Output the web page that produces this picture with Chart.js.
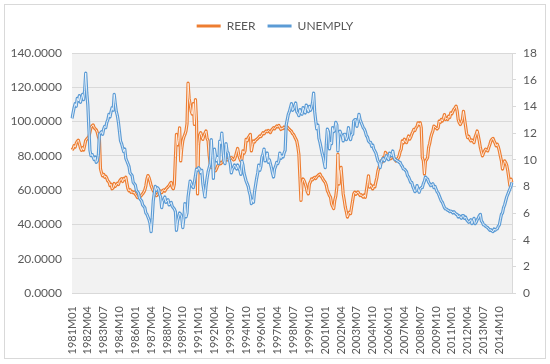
<!DOCTYPE html>
<html>
<head>
<meta charset="utf-8">
<script src="https://cdn.jsdelivr.net/npm/chart.js@4.4.0/dist/chart.umd.min.js"></script>
<style>
  html, body { margin: 0; padding: 0; background: #fff; }
  canvas { display: block; }
</style>
</head>
<body>
<canvas id="chart" width="550" height="364"></canvas>
<script>
// monthly series, 1981M01 .. 2015M10
const startYear = 1981;
const labelStep = 15;

const reer = [
  83.5, 84.2, 86.0, 85.1, 87.3, 88.5, 89.2, 87.0, 84.6, 83.2, 84.8, 83.4, // 1981
  86.1, 89.0, 89.8, 90.5, 91.2, 93.8, 96.7, 97.5, 98.1, 96.4, 95.8, 95.2, // 1982
  93.6, 91.0, 89.5, 72.4, 70.1, 68.3, 69.2, 67.5, 68.1, 66.9, 65.3, 64.8, // 1983
  62.7, 63.5, 60.8, 61.4, 63.9, 62.2, 63.1, 64.0, 63.3, 65.2, 66.1, 66.7, // 1984
  65.0, 66.8, 66.2, 67.5, 64.1, 60.9, 59.6, 60.3, 58.7, 59.2, 58.4, 58.9, // 1985
  57.6, 56.8, 55.7, 56.3, 55.9, 56.4, 57.2, 57.9, 58.8, 60.1, 62.5, 66.4, // 1986
  68.5, 67.3, 65.1, 62.6, 61.0, 59.7, 58.9, 57.8, 56.8, 57.5, 58.3, 58.9, // 1987
  59.6, 58.5, 59.8, 60.2, 59.4, 60.7, 61.3, 62.0, 62.6, 63.8, 64.5, 61.7, // 1988
  60.8, 63.5, 79.0, 92.5, 86.4, 89.6, 96.4, 77.0, 84.2, 88.7, 91.0, 92.5, // 1989
  94.5, 98.7, 122.4, 113.5, 110.0, 106.0, 104.3, 110.5, 98.3, 112.8, 100.2, 57.8, // 1990
  86.7, 92.0, 93.5, 91.3, 89.6, 91.8, 93.2, 94.5, 90.2, 88.7, 80.4, 75.1, // 1991
  73.2, 74.0, 72.5, 71.8, 71.3, 72.6, 74.1, 75.1, 76.3, 75.4, 76.1, 76.8, // 1992
  78.0, 77.2, 78.3, 77.6, 78.0, 79.2, 78.4, 79.0, 78.5, 77.6, 78.0, 79.8, // 1993
  82.1, 84.3, 80.6, 78.5, 77.0, 78.0, 82.9, 81.5, 82.9, 89.6, 88.7, 90.6, // 1994
  91.5, 92.5, 82.9, 86.0, 88.7, 88.0, 89.2, 89.6, 90.1, 90.8, 91.6, 91.2, // 1995
  92.4, 93.5, 92.8, 93.9, 94.5, 94.0, 94.8, 94.2, 93.6, 94.9, 95.7, 96.4, // 1996
  95.8, 96.7, 97.4, 96.9, 97.8, 96.5, 95.4, 96.2, 95.9, 96.8, 96.1, 96.4, // 1997
  96.9, 96.0, 95.5, 94.8, 94.3, 93.0, 92.5, 91.2, 90.0, 88.7, 85.4, 81.0, // 1998
  67.4, 54.0, 64.2, 66.5, 65.5, 63.8, 61.7, 59.0, 57.8, 63.6, 64.9, 66.5, // 1999
  66.0, 67.0, 67.4, 66.8, 67.9, 68.4, 69.0, 69.4, 68.1, 67.4, 66.2, 65.3, // 2000
  64.5, 62.8, 59.8, 58.5, 56.8, 55.9, 52.0, 50.5, 49.2, 54.0, 56.5, 61.7, // 2001
  81.0, 63.5, 71.3, 73.3, 65.6, 57.8, 54.2, 50.1, 47.5, 44.3, 45.8, 47.2, // 2002
  46.3, 50.2, 54.0, 57.8, 58.8, 57.6, 58.3, 59.0, 57.9, 56.9, 57.4, 56.5, // 2003
  55.9, 57.2, 55.8, 59.8, 64.0, 68.4, 61.7, 63.1, 62.0, 60.7, 62.5, 61.9, // 2004
  64.8, 67.5, 71.3, 73.3, 75.6, 77.1, 76.4, 79.0, 78.2, 82.0, 80.6, 81.0, // 2005
  79.5, 79.0, 78.3, 79.0, 80.0, 78.6, 78.0, 77.0, 78.2, 78.4, 80.0, 82.5, // 2006
  83.9, 88.7, 87.5, 89.7, 88.3, 87.7, 89.7, 91.6, 89.7, 90.8, 92.6, 94.0, // 2007
  95.5, 94.8, 96.4, 97.2, 99.3, 98.1, 99.3, 96.4, 79.0, 77.1, 69.4, 77.0, // 2008
  77.8, 79.0, 84.9, 87.3, 90.6, 92.8, 94.5, 97.4, 96.8, 96.4, 95.7, 96.4, // 2009
  100.3, 99.5, 101.2, 100.3, 102.0, 104.1, 101.2, 101.9, 101.2, 103.2, 102.4, 105.1, // 2010
  104.5, 106.0, 107.2, 108.0, 109.0, 106.3, 101.2, 99.3, 98.3, 99.6, 101.2, 106.0, // 2011
  101.5, 97.4, 93.0, 90.6, 91.4, 89.7, 88.7, 89.3, 88.7, 87.7, 90.8, 92.6, // 2012
  94.5, 91.8, 88.7, 84.9, 82.3, 80.0, 81.6, 82.9, 83.9, 83.4, 82.9, 84.9, // 2013
  86.6, 88.7, 89.7, 90.2, 88.7, 87.4, 85.8, 86.8, 85.2, 82.9, 79.8, 77.1, // 2014
  72.3, 75.0, 77.1, 76.1, 74.5, 71.3, 67.0, 62.7, 66.5, 64.5, // 2015
];

const unemply = [
  13.1, 13.5, 13.9, 14.2, 14.0, 14.6, 14.4, 14.8, 14.3, 14.6, 14.9, 14.5, // 1981
  15.2, 16.5, 15.0, 14.1, 12.3, 10.7, 10.3, 10.4, 10.2, 10.0, 10.2, 9.8, // 1982
  9.9, 10.4, 11.9, 12.0, 12.1, 11.9, 12.3, 12.5, 12.4, 12.8, 13.0, 13.4, // 1983
  13.2, 13.6, 13.9, 13.7, 14.9, 14.2, 13.6, 13.3, 12.8, 12.1, 11.4, 11.2, // 1984
  10.9, 10.6, 10.8, 10.1, 9.9, 9.7, 9.5, 9.0, 8.9, 8.8, 8.3, 8.2, // 1985
  8.1, 7.7, 7.6, 7.5, 7.1, 7.0, 6.9, 6.6, 6.5, 6.4, 6.0, 5.9, // 1986
  5.7, 5.5, 5.2, 4.6, 5.6, 6.9, 7.5, 8.0, 7.7, 7.9, 7.8, 7.4, // 1987
  7.2, 6.4, 6.9, 7.0, 7.2, 6.8, 6.9, 7.0, 6.6, 6.7, 6.8, 6.5, // 1988
  6.4, 6.3, 6.1, 4.7, 5.4, 5.7, 6.0, 5.9, 5.7, 4.9, 5.6, 6.7, // 1989
  5.7, 6.0, 7.2, 7.8, 8.4, 8.2, 8.0, 7.9, 8.3, 8.8, 9.3, 9.2, // 1990
  9.4, 9.3, 9.0, 9.2, 8.2, 7.7, 7.2, 8.0, 8.6, 9.1, 9.4, 9.7, // 1991
  11.5, 10.1, 8.6, 10.8, 10.3, 9.9, 10.2, 9.7, 11.4, 11.2, 12.0, 10.8, // 1992
  9.9, 9.7, 11.2, 10.6, 10.5, 10.0, 9.7, 9.0, 9.3, 9.4, 9.6, 9.5, // 1993
  9.3, 9.6, 9.4, 9.2, 8.9, 9.9, 9.6, 9.0, 8.7, 8.4, 8.2, 8.0, // 1994
  7.6, 7.3, 6.7, 7.0, 6.8, 7.6, 8.1, 8.6, 9.0, 9.6, 9.2, 9.5, // 1995
  10.2, 10.4, 10.8, 9.9, 10.2, 10.5, 9.8, 10.0, 9.7, 9.4, 9.0, 8.7, // 1996
  9.3, 9.5, 9.8, 9.7, 9.9, 10.5, 10.1, 10.3, 10.2, 10.5, 10.7, 12.6, // 1997
  13.0, 13.4, 13.6, 13.9, 14.2, 13.7, 13.8, 14.0, 14.25, 13.6, 13.5, 13.3, // 1998
  13.75, 13.5, 13.4, 13.9, 13.7, 13.5, 14.1, 13.8, 13.6, 14.0, 13.7, 13.9, // 1999
  14.3, 15.0, 13.6, 12.9, 12.3, 12.6, 11.6, 11.3, 10.9, 10.5, 10.2, 9.8, // 2000
  9.4, 11.15, 12.3, 12.1, 10.8, 11.3, 11.2, 12.4, 12.1, 12.2, 12.8, 12.6, // 2001
  10.65, 12.0, 12.14, 11.9, 11.8, 11.4, 11.9, 11.9, 11.5, 11.7, 12.4, 11.9, // 2002
  11.5, 11.9, 11.9, 12.9, 13.0, 13.0, 12.5, 12.9, 13.4, 13.0, 12.8, 12.6, // 2003
  12.4, 12.3, 12.1, 11.8, 11.7, 11.4, 11.3, 11.3, 11.0, 11.1, 10.8, 10.65, // 2004
  10.5, 10.2, 9.9, 9.8, 9.4, 9.8, 10.0, 10.1, 9.9, 10.1, 10.3, 10.1, // 2005
  10.0, 10.5, 10.4, 10.3, 10.65, 10.2, 10.0, 10.0, 9.9, 9.9, 9.8, 9.8, // 2006
  9.6, 9.5, 9.3, 9.3, 9.2, 9.1, 8.8, 8.7, 8.5, 8.3, 8.3, 8.0, // 2007
  7.8, 7.6, 7.7, 8.05, 7.8, 7.55, 7.8, 7.9, 7.9, 8.2, 8.4, 8.7, // 2008
  8.6, 8.55, 8.3, 8.2, 8.05, 8.1, 8.2, 7.9, 8.0, 7.8, 7.6, 7.5, // 2009
  7.3, 7.1, 6.9, 6.8, 6.6, 6.4, 6.3, 6.3, 6.2, 6.2, 6.1, 6.15, // 2010
  6.1, 6.0, 6.1, 6.0, 5.9, 5.9, 5.7, 5.8, 5.7, 5.6, 5.8, 5.8, // 2011
  5.6, 5.7, 5.5, 5.4, 5.3, 5.4, 5.5, 5.2, 5.4, 5.6, 5.2, 5.3, // 2012
  5.5, 5.6, 5.8, 5.9, 5.4, 5.3, 5.1, 5.1, 5.0, 4.95, 4.9, 4.8, // 2013
  4.7, 4.75, 4.65, 4.6, 4.8, 4.7, 4.8, 4.8, 5.0, 5.1, 5.5, 5.9, // 2014
  6.0, 6.4, 6.6, 6.9, 7.2, 7.4, 7.6, 7.8, 8.0, 8.3, // 2015
];

const labels = [];
for (let i = 0; i < reer.length; i++) {
  const y = startYear + Math.floor(i / 12);
  const m = (i % 12) + 1;
  labels.push(y + "M" + (m < 10 ? "0" + m : m));
}

const textColor = "#595959";
Chart.defaults.font.family = "Lato, 'Liberation Sans', sans-serif";
Chart.defaults.font.size = 12;
Chart.defaults.color = textColor;

// white page, thin outer frame, grey plot area
const frame = {
  id: "frame",
  beforeDraw(chart) {
    const { ctx, chartArea: a } = chart;
    ctx.save();
    ctx.fillStyle = "#fff";
    ctx.fillRect(0, 0, chart.width, chart.height);
    ctx.strokeStyle = "#d9d9d9";
    ctx.lineWidth = 1;
    ctx.strokeRect(4.5, 4.5, 541, 354);
    ctx.fillStyle = "#f2f2f2";
    ctx.fillRect(a.left, a.top, a.right - a.left, a.bottom - a.top);
    ctx.restore();
  },
};

// extra room under the legend
const legendGap = {
  id: "legendGap",
  beforeInit(chart) {
    const fit = chart.legend.fit;
    chart.legend.fit = function () {
      fit.call(this);
      this.height += 11;
    };
  },
};

function series(label, data, axis, color, width, order) {
  return {
    label: label,
    data: data,
    yAxisID: axis,
    borderColor: color,
    backgroundColor: color,
    borderWidth: width,
    pointRadius: 0,
    fill: false,
    tension: 0,
    borderJoinStyle: "round",
    order: order,
  };
}

new Chart(document.getElementById("chart"), {
  type: "line",
  data: {
    labels: labels,
    datasets: [
      series("REER", reer, "y", "#ED7D31", 3.2, 3),
      series("UNEMPLY", unemply, "y1", "#5B9BD5", 3.2, 1),
      // pale centre stroke gives the double-line look
      series("REER", reer, "y", "rgba(255,255,255,0.8)", 1, 2),
      series("UNEMPLY", unemply, "y1", "rgba(255,255,255,0.8)", 1, 0),
    ],
  },
  options: {
    responsive: false,
    animation: false,
    layout: { padding: { top: 8, left: 0, right: 0, bottom: 0 } },
    plugins: {
      tooltip: { enabled: false },
      legend: {
        position: "top",
        labels: {
          boxWidth: 24,
          boxHeight: 3,
          padding: 12,
          color: textColor,
          generateLabels: (chart) =>
            chart.data.datasets.slice(0, 2).map((ds, i) => ({
              text: ds.label,
              fillStyle: ds.borderColor,
              strokeStyle: ds.borderColor,
              lineWidth: 0,
              hidden: false,
              datasetIndex: i,
              fontColor: textColor,
            })),
        },
      },
    },
    scales: {
      x: {
        grid: { display: false },
        border: { color: "#d9d9d9" },
        ticks: {
          autoSkip: false,
          maxRotation: 90,
          minRotation: 90,
          padding: 5,
          font: { size: 11 },
          callback: (v, i) => (i % labelStep === 0 ? labels[i] : ""),
        },
        afterFit: (s) => { s.height = 71; },
      },
      y: {
        position: "left",
        min: 0,
        max: 140,
        ticks: { stepSize: 20, padding: 10, callback: (v) => v.toFixed(4) },
        grid: { color: "#d9d9d9", drawTicks: false },
        border: { display: false },
        afterFit: (s) => { s.width = 72; },
      },
      y1: {
        position: "right",
        min: 0,
        max: 18,
        ticks: { stepSize: 2, padding: 7 },
        grid: { drawOnChartArea: false, tickLength: 4, color: "#d9d9d9" },
        border: { color: "#d9d9d9" },
        afterFit: (s) => { s.width = 38; },
      },
    },
  },
  plugins: [frame, legendGap],
});
</script>
</body>
</html>
